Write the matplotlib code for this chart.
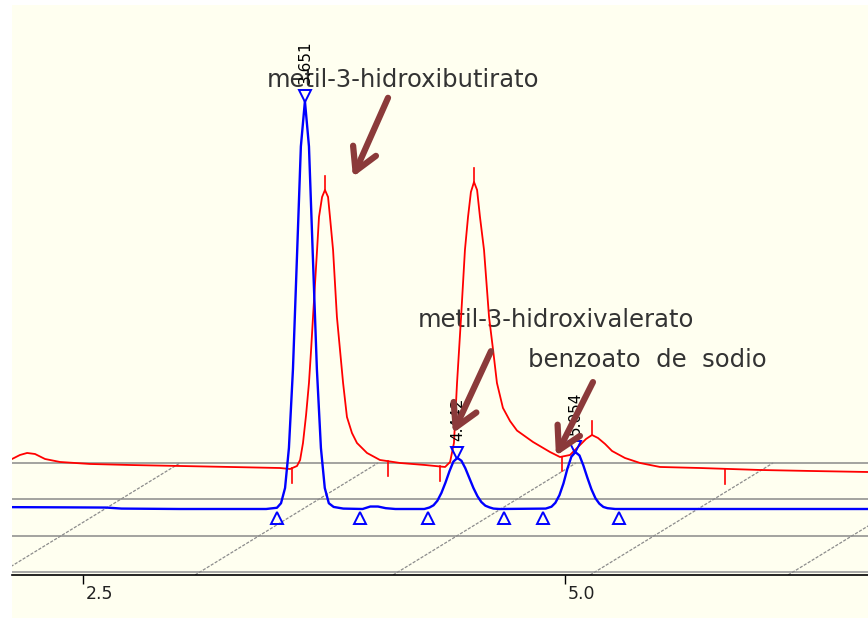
import matplotlib
matplotlib.use("Agg")
import numpy as np
import matplotlib.pyplot as plt
from matplotlib.patches import Rectangle
from matplotlib.transforms import ScaledTranslation

# Standard mix trace (blue): retention time (min) and detector response
blue_time = [2.132, 2.400, 2.620, 2.700, 3.000, 3.450, 3.506, 3.527, 3.548, 3.568,
             3.589, 3.610, 3.630, 3.651, 3.672, 3.692, 3.713, 3.734, 3.754, 3.775,
             3.800, 3.850, 3.950, 3.990, 4.030, 4.070, 4.120, 4.270, 4.297, 4.318,
             4.338, 4.359, 4.380, 4.401, 4.421, 4.442, 4.463, 4.483, 4.504, 4.525,
             4.546, 4.566, 4.587, 4.608, 4.629, 4.660, 4.900, 4.930, 4.950, 4.971,
             4.992, 5.012, 5.033, 5.054, 5.075, 5.095, 5.116, 5.137, 5.158, 5.178,
             5.199, 5.220, 5.260, 6.572]
blue_signal = [0.45, 0.40, 0.35, 0.10, 0.00, 0.00, 0.30, 1.40, 5.10, 14.8,
               34.0, 61.5, 88.0, 99.0, 88.0, 61.5, 34.0, 14.8, 5.10, 1.40,
               0.50, 0.10, 0.00, 0.60, 0.60, 0.20, 0.00, 0.00, 0.36, 0.90,
               2.00, 3.90, 6.40, 9.20, 11.5, 12.4, 11.7, 9.90, 7.50, 5.10,
               3.10, 1.70, 0.80, 0.40, 0.10, 0.00, 0.10, 0.56, 1.50, 3.35,
               6.20, 9.70, 12.7, 13.8, 13.0, 10.6, 7.60, 4.80, 2.60, 1.30,
               0.50, 0.20, 0.00, 0.00]

# Sample trace (red)
red_time = [2.132, 2.173, 2.210, 2.251, 2.303, 2.381, 2.536, 2.744, 3.003, 3.262,
            3.522, 3.574, 3.610, 3.626, 3.641, 3.657, 3.672, 3.683, 3.693, 3.714,
            3.724, 3.740, 3.755, 3.771, 3.781, 3.797, 3.817, 3.833, 3.849, 3.869,
            3.895, 3.921, 3.973, 4.040, 4.144, 4.274, 4.378, 4.404, 4.424, 4.440,
            4.461, 4.481, 4.497, 4.512, 4.528, 4.544, 4.559, 4.580, 4.606, 4.627,
            4.647, 4.678, 4.715, 4.751, 4.834, 4.922, 4.974, 5.026, 5.078, 5.109,
            5.140, 5.171, 5.208, 5.244, 5.311, 5.389, 5.493, 5.700, 6.011, 6.271,
            6.572]
red_signal = [1.70, 2.67, 3.16, 2.91, 1.70, 0.97, 0.49, 0.24, 0.00, -0.24,
              -0.49, -0.73, 0.00, 1.46, 5.58, 12.38, 20.15, 28.16, 36.17, 52.43,
              60.44, 65.29, 66.99, 65.29, 60.44, 52.43, 36.17, 28.16, 20.15, 11.89,
              8.01, 5.58, 3.16, 1.46, 0.73, 0.24, -0.24, 0.97, 5.58, 20.15,
              36.17, 52.43, 60.44, 66.50, 68.93, 66.99, 60.44, 52.43, 36.17, 28.16,
              20.15, 14.10, 10.90, 8.60, 5.83, 3.40, 2.18, 2.67, 5.10, 6.55,
              7.52, 6.80, 5.34, 3.64, 1.94, 0.73, -0.24, -0.49, -0.97, -1.21,
              -1.46]

# Integration results
peak_times = [3.651, 4.442, 5.054]
peak_labels = ["3.651", "4.442", "5.054"]
baseline_marks = [3.506, 3.937, 4.289, 4.684, 4.886, 5.280]
red_cut_times = [3.584, 4.082, 4.352, 4.984, 5.830]
red_apex_times = [3.755, 4.528, 5.140]

compound_names = ["metil-3-hidroxibutirato", "metil-3-hidroxivalerato",
                  "benzoato  de  sodio"]
x_ticks = [2.5, 5.0]
x_tick_labels = ["2.5", "5.0"]

RED_OFFSET = 10.44          # vertical stacking of the sample trace
BG = "#fffff0"
GRID = "#8a8a8a"
ARROW = "#8b3a3a"

fig = plt.figure(figsize=(8.68, 6.18), dpi=100, facecolor="white")
fig.patches.append(Rectangle((12 / 868, 0), 1 - 12 / 868, 613 / 618,
                             transform=fig.transFigure, facecolor=BG,
                             edgecolor="none", zorder=-10))
ax = fig.add_axes([12 / 868, 43 / 618, 856 / 868, 570 / 618])
ax.set_facecolor("none")
ax.set_xlim(2.1317, 6.5716)
ax.set_ylim(-16.02, 122.33)

# stacked-view planes: horizontal rails and slanted guides
for yv in (11.17, 2.43, -6.55):
    ax.axhline(yv, color=GRID, lw=1.1, zorder=1)
ax.axhline(-15.29, color="#9a9a9a", lw=1.2, zorder=1)
for t0 in (2.054, 3.081, 4.108, 5.130, 6.157):
    ax.plot([t0, t0 + 0.949], [-16.02, 11.17], color="#8c8c8c", lw=0.9,
            ls=(0, (2.5, 1.2)), zorder=1, clip_on=True)

# compound annotations (beneath the traces)
ax.text(3.454, 102.4, compound_names[0], ha="left", va="baseline",
        fontsize=17.5, color="#333333", zorder=2)
ax.text(4.2376, 44.2, compound_names[1], ha="left", va="baseline",
        fontsize=17.5, color="#333333", zorder=2)
ax.text(4.808, 34.5, compound_names[2], ha="left", va="baseline",
        fontsize=17.5, color="#333333", zorder=2)

# traces
red_plot = np.array(red_signal) + RED_OFFSET
ax.plot(red_time, red_plot, color="#ff0000", lw=1.3, zorder=3)
ax.plot(blue_time, blue_signal, color="#0000ff", lw=1.7, zorder=4)

# red integration marks
for t in red_cut_times:
    y0 = np.interp(t, red_time, red_plot)
    ax.plot([t, t], [y0, y0 - 3.6], color="#ff0000", lw=1.2, zorder=3)
for t in red_apex_times:
    y0 = np.interp(t, red_time, red_plot)
    ax.plot([t, t], [y0, y0 + 3.4], color="#ff0000", lw=1.2, zorder=3)

# blue peak start/end and apex markers
ax.plot(baseline_marks, [-2.3] * len(baseline_marks), ls="none", marker="^",
        ms=8.5, mfc="none", mec="#0000ff", mew=1.4, zorder=5)
apex = np.interp(peak_times, blue_time, blue_signal)
ax.plot(peak_times, apex + 1.3, ls="none", marker="v", ms=8.5, mfc="none",
        mec="#0000ff", mew=1.4, zorder=5)
for t, a, lab in zip(peak_times, apex, peak_labels):
    ax.annotate(lab, xy=(t, a), xytext=(0, 12), textcoords="offset points",
                rotation=90, ha="center", va="bottom", fontsize=11,
                color="black", zorder=5.5)

# arrows pointing at the compounds
arrows = [((4.082, 99.8), (3.900, 80.6)),
          ((4.616, 38.3), (4.419, 18.4)),
          ((5.145, 30.8), (4.953, 12.9))]
for tail, tip in arrows:
    ax.annotate("", xy=tip, xytext=tail,
                arrowprops=dict(arrowstyle="->,head_length=0.8,head_width=0.45",
                                lw=4.5, color=ARROW, mutation_scale=20,
                                shrinkA=0, shrinkB=0, capstyle="round",
                                joinstyle="round"),
                zorder=6)

# time axis
for side in ("top", "left", "right"):
    ax.spines[side].set_visible(False)
ax.spines["bottom"].set_color("black")
ax.spines["bottom"].set_linewidth(1.2)
ax.set_yticks([])
ax.set_xticks(x_ticks)
ax.set_xticklabels(x_tick_labels)
ax.tick_params(axis="x", direction="out", length=6.5, width=1, color="black",
               pad=1, labelsize=12.5, labelcolor="#222222")
offset = ScaledTranslation(3 / 100, 0, fig.dpi_scale_trans)
for lab in ax.get_xticklabels():
    lab.set_ha("left")
    lab.set_transform(lab.get_transform() + offset)

fig.savefig("out.png", dpi=100, facecolor="white")
